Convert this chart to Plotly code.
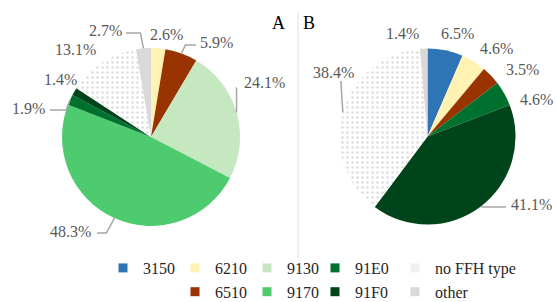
import math
import plotly.graph_objects as go

W, H = 556, 302

# ---------------- data ----------------
categories = ["3150", "6210", "6510", "9130", "9170", "91E0", "91F0", "no FFH type", "other"]
colors = ["#2E75B6", "#FFF2B3", "#993300", "#C5E8C0", "#4FCB6F", "#00702E", "#00441B", "#FFFFFF", "#D9D9D9"]

values_A = [0.0, 2.6, 5.9, 24.1, 48.3, 1.9, 1.4, 13.1, 2.7]
values_B = [6.5, 4.6, 3.5, 0.0, 0.0, 4.6, 41.1, 38.4, 1.4]
labels_A = ["", "2.6%", "5.9%", "24.1%", "48.3%", "1.9%", "1.4%", "13.1%", "2.7%"]
labels_B = ["6.5%", "4.6%", "3.5%", "", "", "4.6%", "41.1%", "38.4%", "1.4%"]

legend_columns = [["3150"], ["6210", "6510"], ["9130", "9170"], ["91E0", "91F0"], ["no FFH type", "other"]]

# ---------------- layout helpers (pixels) ----------------
pies = {
    "A": dict(values=values_A, labels=labels_A, cx=151, cy=137, r=89),
    "B": dict(values=values_B, labels=labels_B, cx=427.5, cy=136.5, r=88),
}
# text left-edge / vertical centre of each percent label (pixel positions)
label_pos = {
    "A": {1: (148, 34), 2: (198, 42), 3: (242, 82), 4: (48, 231), 5: (10, 108),
          6: (42, 79), 7: (53, 50), 8: (87, 31)},
    "B": {0: (439, 33), 1: (478, 48), 2: (504, 70), 5: (518, 99), 6: (509, 204),
          7: (311, 72), 8: (384, 33)},
}
# leader lines: slice index -> (start x, start y, elbow offset)
leaders = {
    "A": {8: (126, 33, -3), 2: (196, 45, 4), 3: (237, 88, 0), 5: (50, 110, -4), 4: (97, 233, -8)},
    "B": {7: (342, 82, -2), 6: (506, 207, 4)},
}
legend_x = [103, 175, 247, 315, 395]
legend_top = 251


def px(x):
    return x / W


def py(y):
    return 1 - y / H


def edge_point(p, idx):
    vals = p["values"]
    tot = sum(vals)
    before = sum(vals[:idx])
    ang = math.radians((before + vals[idx] / 2) / tot * 360)
    return p["cx"] + p["r"] * math.sin(ang), p["cy"] - p["r"] * math.cos(ang)


fig = go.Figure()

pattern_shapes = ["." if c == "no FFH type" else "" for c in categories]

for key, p in pies.items():
    fig.add_trace(go.Pie(
        labels=categories,
        values=p["values"],
        sort=False,
        direction="clockwise",
        rotation=0,
        textinfo="none",
        hoverinfo="label+percent",
        showlegend=False,
        marker=dict(colors=colors, line=dict(width=0),
                    pattern=dict(shape=pattern_shapes, fgcolor="#DADADA", bgcolor="#FFFFFF",
                                 size=5, solidity=0.18)),
        domain=dict(x=[px(p["cx"] - p["r"]), px(p["cx"] + p["r"])],
                    y=[py(p["cy"] + p["r"]), py(p["cy"] - p["r"])]),
    ))

annotations = []
shapes = []
font_lbl = dict(family="Liberation Serif", size=16, color="#595959")
for key, p in pies.items():
    for idx, (lx, ly) in label_pos[key].items():
        annotations.append(dict(x=px(lx), y=py(ly), xref="paper", yref="paper",
                                text=p["labels"][idx], showarrow=False,
                                xanchor="left", yanchor="middle", font=font_lbl))
    for idx, (sx, sy, dx) in leaders[key].items():
        ex, ey = edge_point(p, idx)
        path = f"M {px(sx)} {py(sy)} L {px(ex + dx)} {py(sy)} L {px(ex)} {py(ey)}"
        shapes.append(dict(type="path", path=path, xref="paper", yref="paper",
                           line=dict(color="#A6A6A6", width=1.5)))

# panel letters
for letter, lx in (("A", 278), ("B", 309)):
    annotations.append(dict(x=px(lx), y=py(23), xref="paper", yref="paper", text=letter,
                            showarrow=False, xanchor="center", yanchor="middle",
                            font=dict(family="Liberation Serif", size=18, color="#000000")))

# divider
shapes.append(dict(type="line", xref="paper", yref="paper", x0=px(298), x1=px(298),
                   y0=py(12), y1=py(258), line=dict(color="#E0E0E0", width=1)))

# legend entries (dummy traces), one small vertical legend per column
leg_font = dict(family="Liberation Serif", size=16, color="#262626")
legend_layouts = {}
for ci, col in enumerate(legend_columns):
    lname = "legend" if ci == 0 else f"legend{ci + 1}"
    for name in col:
        c = colors[categories.index(name)]
        if name == "no FFH type":
            c = "#F0F0F0"
        fig.add_trace(go.Scatter(x=[None], y=[None], mode="markers", name=name, legend=lname,
                                 marker=dict(symbol="square", size=9, color=c),
                                 showlegend=True, hoverinfo="skip"))
    legend_layouts[lname] = dict(orientation="v", x=px(legend_x[ci]), y=py(legend_top),
                                 xanchor="left", yanchor="top", font=leg_font,
                                 bgcolor="rgba(0,0,0,0)", itemclick=False,
                                 traceorder="normal", tracegroupgap=0)

fig.update_layout(
    width=W, height=H,
    margin=dict(l=0, r=0, t=0, b=0, pad=0, autoexpand=False),
    paper_bgcolor="white", plot_bgcolor="white",
    xaxis=dict(visible=False), yaxis=dict(visible=False),
    annotations=annotations, shapes=shapes,
    **legend_layouts,
)

fig.write_html("out.html", config={"displayModeBar": False},
               post_script="document.body.style.margin='0';")
